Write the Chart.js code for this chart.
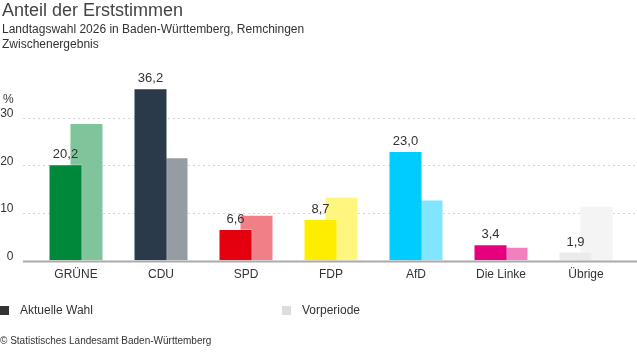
<!DOCTYPE html>
<html lang="de">
<head>
<meta charset="utf-8">
<script src="https://cdn.jsdelivr.net/npm/chart.js@4"></script>
<style>
  body { margin: 0; background: #fff; font-family: "Liberation Sans", Arial, sans-serif; color: #333; }
  #wrap { position: relative; width: 637px; height: 352px; overflow: hidden; }
  canvas { position: absolute; left: 0; top: 0; }
  .txt { position: absolute; white-space: nowrap; }
  .title { left: 2px; top: 0px; font-size: 18px; color: #444; }
  .sub { left: 2px; font-size: 12px; color: #333; }
  .unit { left: 3px; top: 92px; font-size: 12px; color: #333; }
  .leg { top: 303px; font-size: 12px; color: #333; }
  .leg i { display: inline-block; width: 9px; height: 9px; margin-right: 11px; vertical-align: -1px; }
  .foot { left: 0px; top: 335px; font-size: 10px; color: #333; }
</style>
</head>
<body>
<div id="wrap">
  <canvas id="chart" width="637" height="352"></canvas>
  <div class="txt title">Anteil der Erststimmen</div>
  <div class="txt sub" style="top:22px">Landtagswahl 2026 in Baden-Württemberg, Remchingen</div>
  <div class="txt sub" style="top:37px">Zwischenergebnis</div>
  <div class="txt unit">%</div>
  <div class="txt leg" style="left:0px"><i style="background:#333"></i>Aktuelle Wahl</div>
  <div class="txt leg" style="left:282px"><i style="background:#ddd"></i>Vorperiode</div>
  <div class="txt foot">© Statistisches Landesamt Baden-Württemberg</div>
</div>
<script>
// Parteien und Ergebnisse (Prozent)
const parties = ["GRÜNE", "CDU", "SPD", "FDP", "AfD", "Die Linke", "Übrige"];
const currentVotes = [20.2, 36.2, 6.6, 8.7, 23.0, 3.4, 1.9];
const previousVotes = [28.9, 21.7, 9.6, 13.4, 12.8, 2.9, 11.5];
const currentColors = ["#00883a", "#2b3a4a", "#e3000f", "#ffed00", "#00ccff", "#e6007e", "#ebebeb"];
const previousColors = ["#80c49c", "#959ca4", "#f17f87", "#fff67f", "#80e5ff", "#f280be", "#f4f4f4"];

const fmt = (v) => v.toFixed(1).replace(".", ",");

// gepunktete Hilfslinien und Grundlinie, etwas breiter als die Plotfläche
const gridPlugin = {
  id: "gridLines",
  beforeDatasetsDraw(chart) {
    const ctx = chart.ctx;
    const y = chart.scales.y;
    ctx.save();
    ctx.strokeStyle = "#d6d6d6";
    ctx.lineWidth = 1;
    ctx.setLineDash([2, 3]);
    y.ticks.forEach((t) => {
      if (t.value === 0) return;
      const py = Math.round(y.getPixelForValue(t.value)) + 0.5;
      ctx.beginPath();
      ctx.moveTo(23, py);
      ctx.lineTo(chart.width, py);
      ctx.stroke();
    });
    ctx.restore();
  },
  afterDatasetsDraw(chart) {
    const ctx = chart.ctx;
    const y = chart.scales.y;
    const py = y.getPixelForValue(0);
    ctx.save();
    ctx.strokeStyle = "#aaaaaa";
    ctx.lineWidth = 2;
    ctx.beginPath();
    ctx.moveTo(23, py + 1);
    ctx.lineTo(chart.width, py + 1);
    ctx.stroke();

    // Werte über den aktuellen Balken
    const meta = chart.getDatasetMeta(0);
    ctx.fillStyle = "#333";
    ctx.font = "13px 'Liberation Sans', Arial, sans-serif";
    ctx.textAlign = "center";
    ctx.textBaseline = "bottom";
    meta.data.forEach((bar, i) => {
      ctx.fillText(fmt(currentVotes[i]), bar.x, bar.y - 3);
    });
    ctx.restore();
  },
};

new Chart(document.getElementById("chart"), {
  type: "bar",
  data: {
    labels: parties,
    datasets: [
      {
        label: "Aktuelle Wahl",
        data: currentVotes,
        backgroundColor: currentColors,
        borderColor: "rgba(255,255,255,0.35)",
        borderWidth: 1,
      },
      {
        label: "Vorperiode",
        data: previousVotes,
        backgroundColor: previousColors,
        borderColor: "rgba(255,255,255,0.35)",
        borderWidth: 1,
      },
    ],
  },
  options: {
    responsive: false,
    animation: false,
    categoryPercentage: 0.494,
    barPercentage: 1.62,
    layout: { padding: { top: 79.6, left: 0, right: 8.5, bottom: 61.5 } },
    plugins: {
      legend: { display: false },
      title: { display: false },
      tooltip: { enabled: false },
    },
    scales: {
      x: {
        grid: { display: false, drawTicks: false },
        border: { display: false },
        ticks: {
          color: "#333",
          padding: 7,
          font: { family: "'Liberation Sans', Arial, sans-serif", size: 12 },
        },
        afterFit: (scale) => { scale.height = 30; },
      },
      y: {
        min: 0,
        max: 38,
        grid: { display: false, drawTicks: false },
        border: { display: false },
        ticks: {
          stepSize: 10,
          includeBounds: false,
          color: "#333",
          padding: 20,
          labelOffset: -4,
          font: { family: "'Liberation Sans', Arial, sans-serif", size: 12 },
        },
        afterFit: (scale) => { scale.width = 33.5; },
      },
    },
  },
  plugins: [gridPlugin],
});
</script>
</body>
</html>
